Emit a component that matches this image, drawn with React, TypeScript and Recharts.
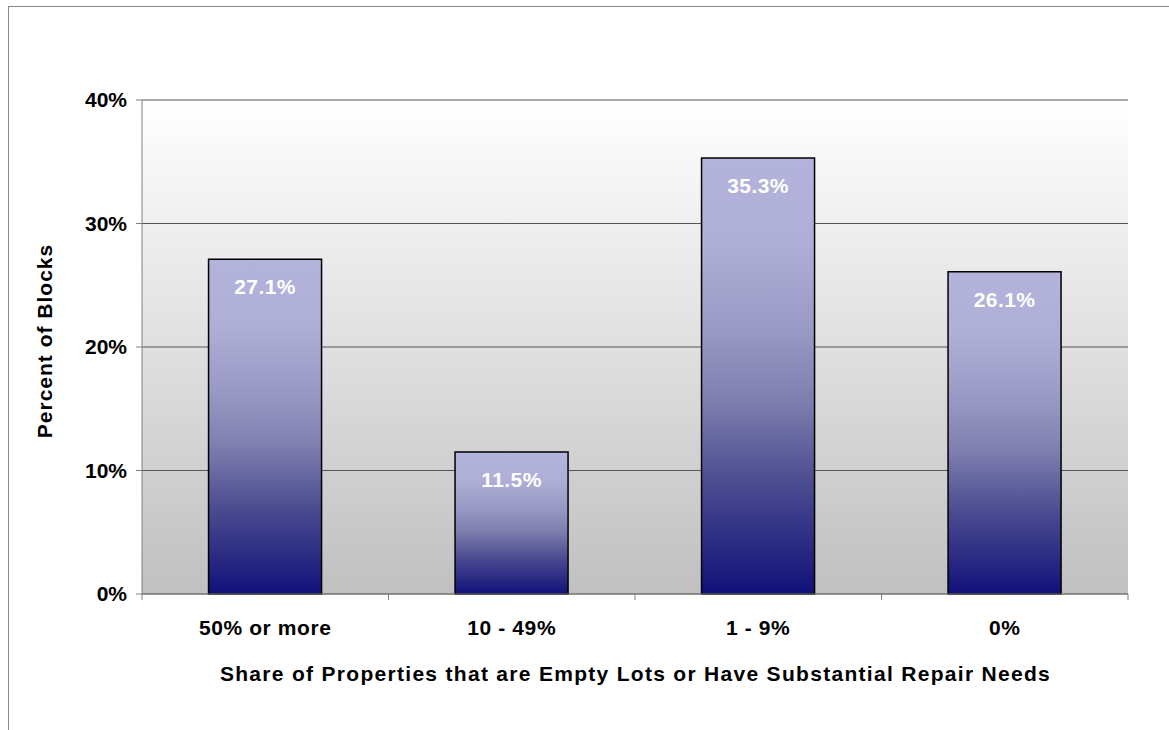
import React from 'react';
import { BarChart, Bar, XAxis, YAxis, CartesianGrid, LabelList } from 'recharts';

const categories = ['50% or more', '10 - 49%', '1 - 9%', '0%'];
const percentOfBlocks = [27.1, 11.5, 35.3, 26.1];
const yTicks = [0, 10, 20, 30, 40];

const data = categories.map((name, i) => ({ name, value: percentOfBlocks[i] }));

const FONT = '"Liberation Sans", Arial, Helvetica, sans-serif';
const W = 1169;
const H = 730;
const PLOT_LEFT = 142;
const PLOT_RIGHT = 1128;
const PLOT_TOP = 100;
const PLOT_BOTTOM = 594;
const BAND = (PLOT_RIGHT - PLOT_LEFT) / categories.length;
const Y_AXIS_W = 100;
const X_AXIS_H = 80;

// category labels plus the small tick marks between categories
const XTick = (props: any) => {
  const { x, payload } = props;
  const idx = props.index ?? categories.indexOf(payload.value);
  const left = x - BAND / 2;
  const right = x + BAND / 2;
  return (
    <g>
      <line x1={left} x2={left} y1={PLOT_BOTTOM} y2={PLOT_BOTTOM + 6} stroke="#808080" />
      {idx === categories.length - 1 && (
        <line x1={right} x2={right} y1={PLOT_BOTTOM} y2={PLOT_BOTTOM + 6} stroke="#808080" />
      )}
      <text
        x={x}
        y={PLOT_BOTTOM + 41}
        textAnchor="middle"
        fontFamily={FONT}
        fontWeight="bold"
        fontSize={21}
        letterSpacing={0.6}
        fill="#000"
      >
        {payload.value}
      </text>
    </g>
  );
};

export default function App() {
  return (
    <div style={{ position: 'absolute', left: 0, top: 0, width: W, height: H, background: '#fff', overflow: 'hidden' }}>
      {/* outer frame, only top and left edges show */}
      <div
        style={{
          position: 'absolute',
          left: 8,
          top: 6,
          width: W,
          height: H,
          borderTop: '1px solid #888',
          borderLeft: '1px solid #888',
        }}
      />
      <BarChart
        width={W}
        height={H}
        data={data}
        margin={{ top: PLOT_TOP, right: W - PLOT_RIGHT, bottom: H - PLOT_BOTTOM - X_AXIS_H, left: PLOT_LEFT - Y_AXIS_W }}
        barCategoryGap="27%"
        style={{ position: 'absolute', left: 0, top: 0 }}
      >
        <defs>
          <linearGradient id="plotBg" x1="0" y1="0" x2="0" y2="1">
            <stop offset="0%" stopColor="#ffffff" />
            <stop offset="100%" stopColor="#c0c0c0" />
          </linearGradient>
          <linearGradient id="barFill" x1="0" y1="0" x2="0" y2="1">
            <stop offset="0%" stopColor="#b3b3db" />
            <stop offset="20%" stopColor="#aeaed6" />
            <stop offset="40%" stopColor="#9898c4" />
            <stop offset="55%" stopColor="#8080b0" />
            <stop offset="75%" stopColor="#4a4a90" />
            <stop offset="90%" stopColor="#282882" />
            <stop offset="100%" stopColor="#10107a" />
          </linearGradient>
        </defs>
        <CartesianGrid vertical={false} stroke="#555" fill="url(#plotBg)" fillOpacity={1} />
        <XAxis
          dataKey="name"
          height={X_AXIS_H}
          axisLine={{ stroke: '#808080' }}
          tickLine={false}
          tick={<XTick />}
          interval={0}
        />
        <YAxis
          width={Y_AXIS_W}
          domain={[0, 40]}
          ticks={yTicks}
          tickFormatter={(v: number) => `${v}%`}
          axisLine={{ stroke: '#808080' }}
          tickLine={{ stroke: '#808080' }}
          tickSize={6}
          tickMargin={9}
          tick={{ fill: '#000', fontSize: 21, fontWeight: 'bold', fontFamily: FONT }}
        />
        <Bar dataKey="value" fill="url(#barFill)" stroke="#000" strokeWidth={1.5} isAnimationActive={false}>
          <LabelList
            dataKey="value"
            position="insideTop"
            offset={20}
            formatter={(v: any) => `${v}%`}
            fill="#fff"
            fontSize={21}
            fontWeight="bold"
            fontFamily={FONT}
            letterSpacing={0.4}
          />
        </Bar>
      </BarChart>
      <div
        style={{
          position: 'absolute',
          left: 0,
          width: W,
          top: 662,
          textAlign: 'center',
          paddingLeft: 102,
          boxSizing: 'border-box',
          fontFamily: FONT,
          fontWeight: 'bold',
          fontSize: 21,
          letterSpacing: 1.3,
          lineHeight: '24px',
          color: '#000',
          whiteSpace: 'nowrap',
        }}
      >
        Share of Properties that are Empty Lots or Have Substantial Repair Needs
      </div>
      <div
        style={{
          position: 'absolute',
          left: 45,
          top: 341,
          transform: 'translate(-50%, -50%) rotate(-90deg)',
          fontFamily: FONT,
          fontWeight: 'bold',
          fontSize: 21,
          letterSpacing: 1,
          lineHeight: '24px',
          color: '#000',
          whiteSpace: 'nowrap',
        }}
      >
        Percent of Blocks
      </div>
    </div>
  );
}
